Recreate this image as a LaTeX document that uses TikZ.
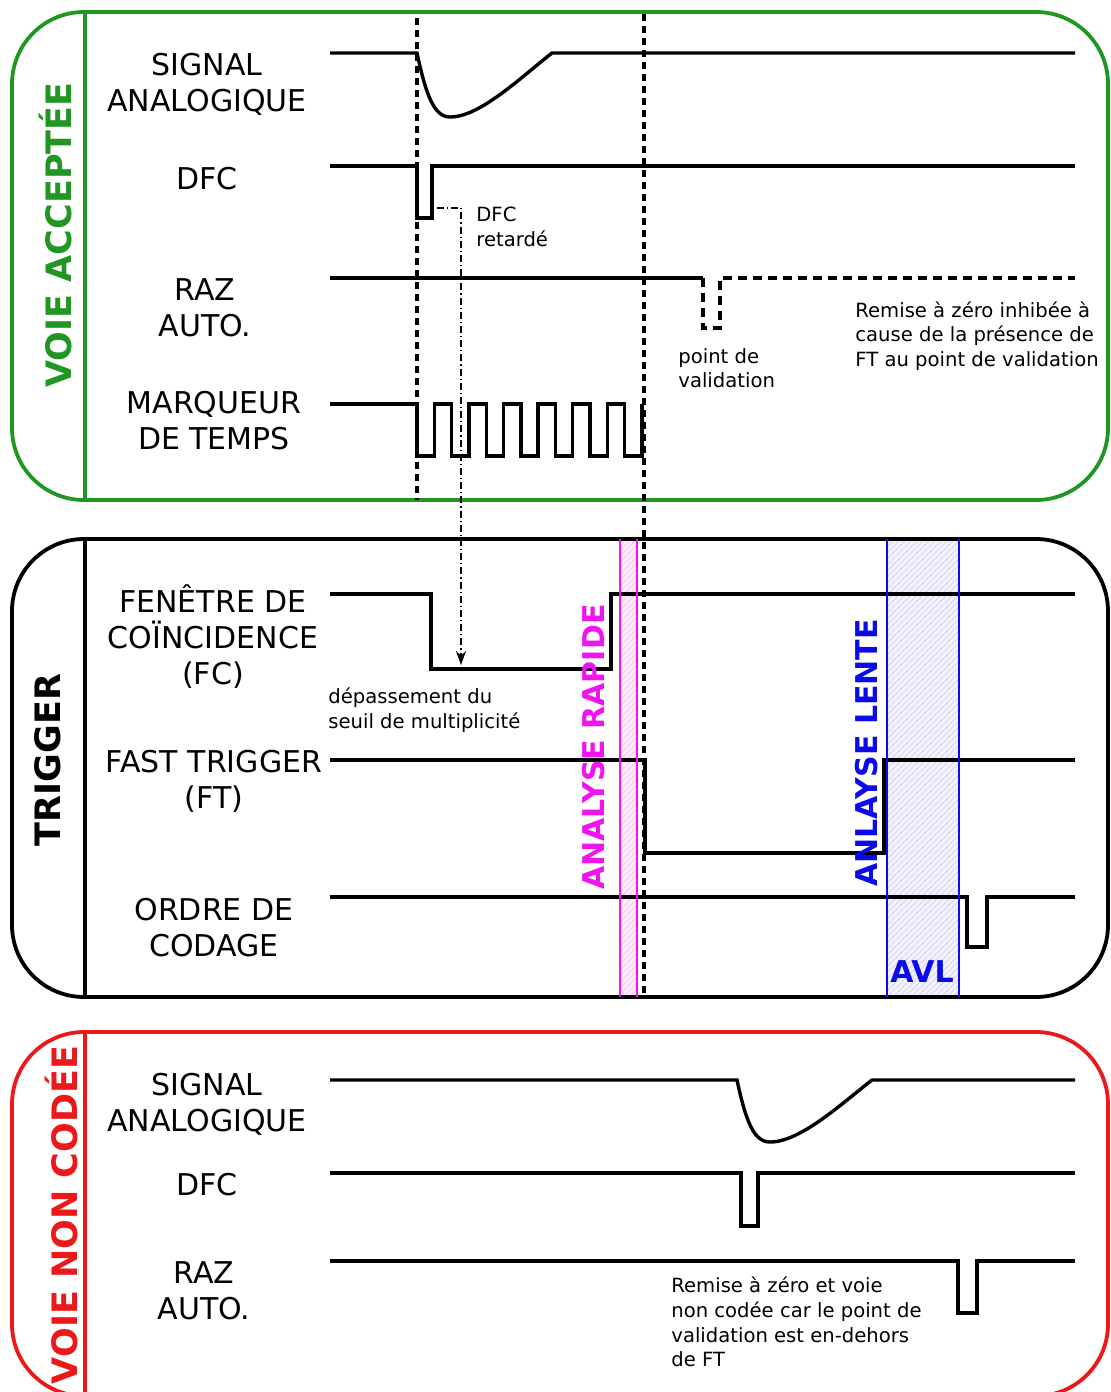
\documentclass[tikz,border=0pt]{standalone}
\usepackage{fontspec}
\setmainfont{DejaVu Sans}
\usepackage{tikz}
\usetikzlibrary{arrows.meta, patterns}
\definecolor{voiegreen}{RGB}{34,150,34}
\definecolor{voiered}{RGB}{235,25,25}
\definecolor{rapidmag}{RGB}{240,20,240}
\definecolor{lenteblue}{RGB}{10,10,235}
\tikzstyle{panel} = [line width=1.9pt, rounded corners=36pt]
\tikzstyle{sig} = [line width=1.7pt, line join=miter]
\tikzstyle{inhibited} = [sig, dash pattern=on 4.5pt off 3pt]
\tikzstyle{marker} = [line width=1.6pt, dash pattern=on 3.5pt off 2.5pt]
\tikzstyle{delay} = [line width=0.8pt, dash pattern=on 3.5pt off 1.5pt on 0.6pt off 1.5pt, -{Stealth[length=7pt,width=5pt]}]
\tikzstyle{lbl} = [align=center, inner sep=0pt, font=\fontsize{15}{18}\selectfont]
\tikzstyle{note} = [align=left, anchor=west, inner sep=0pt, font=\fontsize{9.8}{12.3}\selectfont]
\tikzstyle{vtitle} = [rotate=90, inner sep=0pt, font=\bfseries\fontsize{17.5}{20}\selectfont]
\tikzstyle{btitle} = [inner sep=0pt, font=\bfseries\fontsize{15}{18}\selectfont]

\begin{document}
\begin{tikzpicture}[x=0.5pt, y=-0.5pt]
    \useasboundingbox (0,0) rectangle (1110,1392);
    \clip (0,0) rectangle (1110,1392);
    % analysis windows
    \fill[rapidmag!8] (620,539) rectangle (637,997);
    \fill[pattern=north east lines, pattern color=rapidmag!25] (620,539) rectangle (637,997);
    \fill[lenteblue!5] (887,539) rectangle (959,997);
    \fill[pattern=north east lines, pattern color=lenteblue!18] (887,539) rectangle (959,997);

    % panels
    \draw[panel, voiegreen] (12,12) rectangle (1108,500);
    \draw[line width=1.9pt, voiegreen] (85,12) -- (85,500);
    \draw[panel] (12,539) rectangle (1108,997);
    \draw[line width=1.9pt] (85,539) -- (85,997);
    \draw[panel, voiered] (12,1032) rectangle (1108,1396);
    \draw[line width=1.9pt, voiered] (85,1032) -- (85,1396);

    \node[vtitle, voiegreen] (t_acc) at (56,235) {VOIE ACCEPTÉE};
    \node[vtitle] (t_trig) at (48,760) {TRIGGER};
    \node[vtitle, voiered] (t_non) at (62,1215) {VOIE NON CODÉE};

    % voie acceptee
    \node[lbl] (l_sig1) at (207,84) {SIGNAL\\ANALOGIQUE};
    \node[lbl] (l_dfc1) at (207,179) {DFC};
    \node[lbl] (l_raz1) at (205,308) {RAZ\\AUTO.};
    \node[lbl] (l_mqt) at (214,421) {MARQUEUR\\DE TEMPS};
    \draw[sig] (330,53) -- (417,53) .. controls (426,95) and (434,117) .. (450,117)
        .. controls (480,117) and (520,78) .. (552,53) -- (1075,53);
    \draw[sig] (330,166) -- (417,166) -- (417,218) -- (432,218) -- (432,166) -- (1075,166);
    \draw[sig] (330,278) -- (703,278);
    \draw[inhibited] (703,278) -- (703,328) -- (720,328) -- (720,278) -- (1075,278);
    \draw[sig] (330,404) -- (417,404) -- (417,456)
        \foreach \k in {1,...,6} { -- ++(17.3,0) -- ++(0,-52) -- ++(17.3,0) -- ++(0,52) }
        -- ++(17.3,0) -- ++(0,-52);
    \node[note] (n_dfcr) at (476,227) {DFC\\retardé};
    \node[note] (n_pval) at (678,368) {point de\\validation};
    \node[note] (n_inhib) at (855,336) {Remise à zéro inhibée à\\cause de la présence de\\FT au point de validation};

    % trigger
    \node[lbl] (l_fc) at (213,637) {FENÊTRE DE\\COÏNCIDENCE\\(FC)};
    \node[lbl] (l_ft) at (214,781) {FAST TRIGGER\\(FT)};
    \node[lbl] (l_odc) at (214,928) {ORDRE DE\\CODAGE};
    \draw[sig] (330,594) -- (431,594) -- (431,669) -- (611,669) -- (611,594) -- (1075,594);
    \draw[sig] (330,760) -- (645,760) -- (645,853) -- (884,853) -- (884,760) -- (1075,760);
    \draw[sig] (330,897) -- (967,897) -- (967,947) -- (987,947) -- (987,897) -- (1075,897);
    \node[note] (n_seuil) at (328,710) {dépassement du\\seuil de multiplicité};

    \draw[rapidmag, line width=1.1pt] (620,539) -- (620,997) (637,539) -- (637,997);
    \draw[lenteblue, line width=1.1pt] (887,539) -- (887,997) (959,539) -- (959,997);
    \node[vtitle, btitle, rapidmag] (t_rap) at (594,747) {ANALYSE RAPIDE};
    \node[vtitle, btitle, lenteblue] (t_len) at (867,753) {ANLAYSE LENTE};
    \node[btitle, lenteblue] (t_avl) at (922,972) {AVL};

    % time references
    \draw[marker] (417,18) -- (417,500);
    \draw[marker] (644,14) -- (644,997);
    \coordinate (dfcr) at (437,208);
    \coordinate (fclow) at (461,665);
    \draw[delay] (dfcr) -| (fclow);

    % voie non codee
    \node[lbl] (l_sig2) at (207,1104) {SIGNAL\\ANALOGIQUE};
    \node[lbl] (l_dfc2) at (207,1185) {DFC};
    \node[lbl] (l_raz2) at (204,1291) {RAZ\\AUTO.};
    \draw[sig] (330,1080) -- (737,1080) .. controls (746,1122) and (754,1142) .. (770,1142)
        .. controls (800,1142) and (840,1105) .. (872,1080) -- (1075,1080);
    \draw[sig] (330,1173) -- (741,1173) -- (741,1226) -- (758,1226) -- (758,1173) -- (1075,1173);
    \draw[sig] (330,1261) -- (958,1261) -- (958,1313) -- (977,1313) -- (977,1261) -- (1075,1261);
    \node[note] (n_noncod) at (671,1322) {Remise à zéro et voie\\non codée car le point de\\validation est en-dehors\\de FT};
\end{tikzpicture}
\end{document}
